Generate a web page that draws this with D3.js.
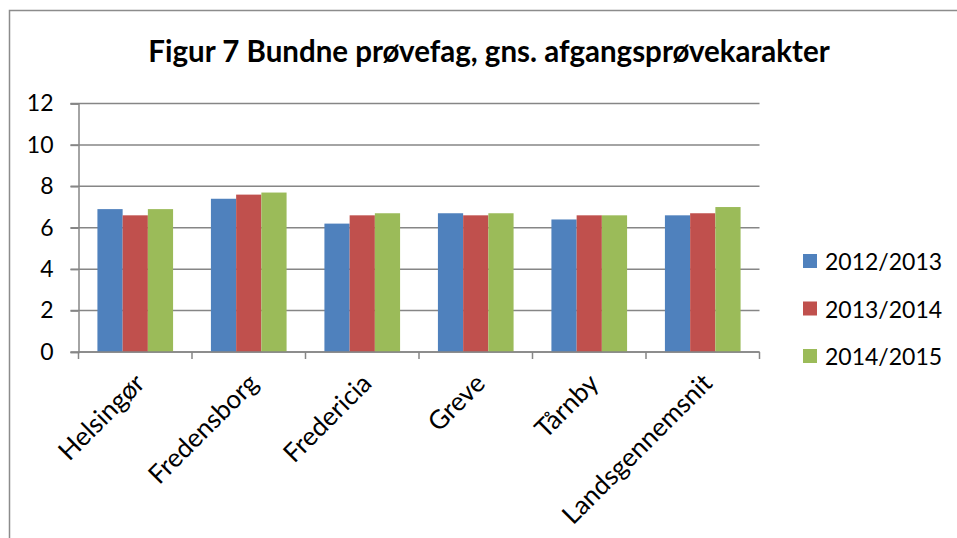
<!DOCTYPE html>
<html lang="da">
<meta charset="utf-8">
<title>Figur 7</title>
<style>
  body { margin: 0; background: #fff; }
  svg text { font-family: Lato, "Open Sans", sans-serif; fill: #000; }
</style>
<body>
<svg id="canvas"></svg>
<script src="https://cdn.jsdelivr.net/npm/d3@7"></script>
<script>
    /////////////////// data ///////////////////
    var categories = ["Helsingør", "Fredensborg", "Fredericia", "Greve", "Tårnby", "Landsgennemsnit"];
    var series     = ["2012/2013", "2013/2014", "2014/2015"];
    var v_2012     = [6.9, 7.4, 6.2, 6.7, 6.4, 6.6];
    var v_2013     = [6.6, 7.6, 6.6, 6.6, 6.6, 6.7];
    var v_2014     = [6.9, 7.7, 6.7, 6.7, 6.6, 7.0];
    var y_ticks    = [0, 2, 4, 6, 8, 10, 12];
    var title_text = "Figur 7 Bundne prøvefag, gns. afgangsprøvekarakter";
    ////////////////////////////////////////////

    var values = [v_2012, v_2013, v_2014];
    var colors = ["#4F81BD", "#C0504D", "#9BBB59"];
    var grid_color = "#868686";

    var W = 957, H = 538;
    var plot = { left: 78.5, right: 759.5, top: 103.5, bottom: 352 };

    var svg = d3.select("#canvas").attr("width", W).attr("height", H);

    // chart frame (only top and left edges visible in the crop)
    svg.append("path")
       .attr("d", "M9.5," + H + " V10.5 H" + W)
       .attr("fill", "none")
       .attr("stroke", "#8c8c8c")
       .attr("stroke-width", 1.5);

    // title
    svg.append("text")
       .attr("x", 489)
       .attr("y", 62)
       .attr("text-anchor", "middle")
       .attr("font-weight", "bold")
       .attr("font-size", 29.5)
       .text(title_text);

    // scales
    var x = d3.scaleBand()
              .domain(categories)
              .range([plot.left, plot.right]);
    // excel gap width 150%: bar = band / 4.5
    var gap = x.bandwidth() * 0.75 / 4.5;
    var x_inner = d3.scaleBand()
              .domain(series)
              .range([gap, x.bandwidth() - gap]);
    var y = d3.scaleLinear()
              .domain([0, 12])
              .range([plot.bottom, plot.top]);

    // gridlines
    svg.append("g")
       .selectAll("line")
       .data(y_ticks)
       .join("line")
       .attr("x1", plot.left - 8)
       .attr("x2", plot.right)
       .attr("y1", d => y(d))
       .attr("y2", d => y(d))
       .attr("stroke", grid_color)
       .attr("stroke-width", 1.5);

    // bars
    series.forEach(function (s, i) {
        svg.append("g")
           .selectAll("rect")
           .data(values[i])
           .join("rect")
           .attr("x", (d, j) => x(categories[j]) + x_inner(s))
           .attr("y", d => y(d))
           .attr("width", x_inner.bandwidth())
           .attr("height", d => y(0) - y(d))
           .attr("fill", colors[i]);
    });

    // y axis
    var y_axis = svg.append("g")
       .attr("transform", "translate(" + plot.left + ",0)")
       .call(d3.axisLeft(y).tickValues(y_ticks).tickSize(8).tickPadding(17));
    y_axis.select(".domain").attr("stroke", grid_color).attr("stroke-width", 1.5);
    y_axis.selectAll(".tick line").attr("stroke", grid_color).attr("stroke-width", 1.5);
    y_axis.selectAll(".tick text")
          .attr("font-size", 23)
          .attr("font-family", "Lato")
          .attr("fill", "#000");

    // x axis
    var x_axis = svg.append("g")
       .attr("transform", "translate(0," + plot.bottom + ")");
    x_axis.append("line")
          .attr("x1", plot.left).attr("x2", plot.right)
          .attr("stroke", grid_color).attr("stroke-width", 1.5);
    var edges = categories.map(d => x(d)).concat([plot.right]);
    x_axis.selectAll(".cat_tick")
          .data(edges)
          .join("line")
          .attr("class", "cat_tick")
          .attr("x1", d => d).attr("x2", d => d)
          .attr("y1", 0).attr("y2", 7)
          .attr("stroke", grid_color).attr("stroke-width", 1.5);
    x_axis.selectAll(".cat_label")
          .data(categories)
          .join("text")
          .attr("class", "cat_label")
          .attr("text-anchor", "end")
          .attr("font-size", 26)
          .attr("transform", d => "translate(" + (x(d) + x.bandwidth() / 2 + 11) + ",33) rotate(-45)")
          .text(d => d);

    // legend
    var legend = svg.append("g");
    var legend_y = [261, 308.5, 356];
    series.forEach(function (s, i) {
        legend.append("rect")
              .attr("x", 803)
              .attr("y", legend_y[i] - 7)
              .attr("width", 14)
              .attr("height", 14)
              .attr("fill", colors[i]);
        legend.append("text")
              .attr("x", 825)
              .attr("y", legend_y[i])
              .attr("dominant-baseline", "central")
              .attr("font-size", 23)
              .text(s);
    });
</script>
</body>
</html>
